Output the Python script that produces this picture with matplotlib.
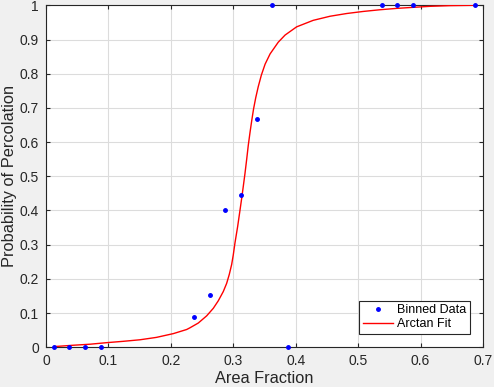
"""
Percolation probability vs area fraction, binned data + arctan fit.
Recreates a MATLAB-style figure.
"""

import matplotlib
matplotlib.use("Agg")
import matplotlib.pyplot as plt

# ─────────────────────────────────────────────
# binned data (bin centres, fraction of percolating samples)
bin_x = [0.0125, 0.0375, 0.0625, 0.0875, 0.2375, 0.2625, 0.2875, 0.3125,
         0.3375, 0.3625, 0.3875, 0.5375, 0.5625, 0.5875, 0.6875]
bin_y = [0.0, 0.0, 0.0, 0.0, 0.09, 0.153, 0.40, 0.444,
         0.667, 1.0, 0.0, 1.0, 1.0, 1.0, 1.0]

# arctan fit curve
fit_x = [0.0125, 0.0437, 0.0705, 0.097, 0.124, 0.1506, 0.177, 0.204,
         0.2253, 0.2306, 0.244, 0.2574, 0.268, 0.276, 0.284, 0.2894,
         0.2936, 0.2974, 0.300, 0.3027, 0.307, 0.3107, 0.3135, 0.316,
         0.3188, 0.3215, 0.324, 0.3268, 0.3295, 0.3325, 0.336, 0.340,
         0.345, 0.351, 0.359, 0.372, 0.383, 0.4015, 0.428, 0.455,
         0.4817, 0.508, 0.535, 0.5617, 0.588, 0.615, 0.647, 0.6875]
fit_y = [0.002, 0.006, 0.009, 0.0135, 0.0175, 0.022, 0.029, 0.040,
         0.052, 0.057, 0.071, 0.092, 0.114, 0.136, 0.163, 0.187,
         0.213, 0.242, 0.270, 0.305, 0.353, 0.400, 0.436, 0.470,
         0.509, 0.550, 0.590, 0.628, 0.662, 0.697, 0.730, 0.762,
         0.796, 0.828, 0.858, 0.892, 0.913, 0.937, 0.956, 0.968,
         0.976, 0.982, 0.987, 0.991, 0.994, 0.997, 0.999, 1.0]

x_ticks = [0, 0.1, 0.2, 0.3, 0.4, 0.5, 0.6, 0.7]
x_tick_labels = ["0", "0.1", "0.2", "0.3", "0.4", "0.5", "0.6", "0.7"]
y_ticks = [0, 0.1, 0.2, 0.3, 0.4, 0.5, 0.6, 0.7, 0.8, 0.9, 1.0]
y_tick_labels = ["0", "0.1", "0.2", "0.3", "0.4", "0.5", "0.6", "0.7",
                 "0.8", "0.9", "1"]

plt.rcParams["font.family"] = ["Liberation Sans", "DejaVu Sans"]

DARK = "#262626"

fig = plt.figure(figsize=(4.94, 3.87), dpi=100, facecolor="#f0f0f0")
ax = fig.add_axes([0.0931, 0.1026, 0.8846, 0.8837])
ax.set_facecolor("white")

ax.plot(bin_x, bin_y, linestyle="none", marker=".", markersize=5,
        color="#0000ff", label="Binned Data", clip_on=False, zorder=4)
ax.plot(fit_x, fit_y, color="#ff0000", linewidth=1.0, label="Arctan Fit",
        zorder=3)

ax.set_xlim(0, 0.7)
ax.set_ylim(0, 1)
ax.set_xticks(x_ticks)
ax.set_xticklabels(x_tick_labels)
ax.set_yticks(y_ticks)
ax.set_yticklabels(y_tick_labels)

ax.grid(True, color="#dcdcdc", linewidth=0.8)
ax.set_axisbelow(True)
for s in ax.spines.values():
    s.set_color(DARK)
    s.set_linewidth(0.8)
ax.tick_params(direction="in", length=3, width=0.8, color=DARK,
               labelcolor=DARK, labelsize=10, top=True, right=True, pad=5)

ax.set_xlabel("Area Fraction", fontsize=11.8, color=DARK)
ax.set_ylabel("Probability of Percolation", fontsize=11.8, color=DARK)
ax.xaxis.set_label_coords(0.5, -0.07)
ax.yaxis.set_label_coords(-0.066, 0.5)

leg = ax.legend(loc="lower right", fontsize=9, frameon=True, fancybox=False,
                edgecolor=DARK, framealpha=1, borderpad=0.3,
                handlelength=2.4, handletextpad=0.3, labelspacing=0.15,
                borderaxespad=0, bbox_to_anchor=(0.970, 0.039))
leg.get_frame().set_linewidth(0.8)

fig.savefig("out.png", dpi=100, facecolor=fig.get_facecolor())
